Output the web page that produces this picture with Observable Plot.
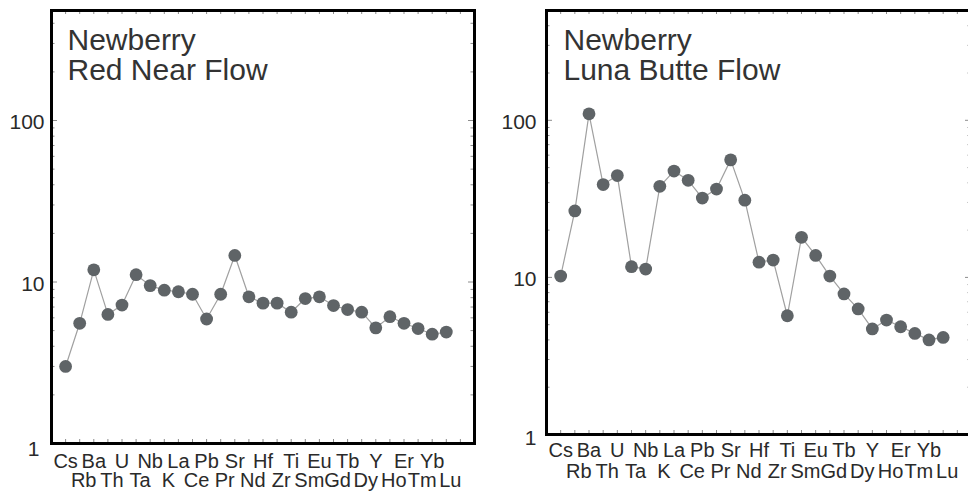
<!DOCTYPE html>
<html>
<head>
<meta charset="utf-8">
<script src="https://cdn.jsdelivr.net/npm/d3@7"></script>
<script src="https://cdn.jsdelivr.net/npm/@observablehq/plot@0.6"></script>
<style>
  html, body { margin: 0; padding: 0; background: #fff; overflow: hidden; }
  #wrap { display: flex; width: 968px; height: 492px; overflow: hidden; }
  #wrap svg { flex: none; max-width: none !important; }
</style>
</head>
<body>
<div id="wrap"></div>
<script>
// Trace-element spidergram: element order along the x axis
const elements = ["Cs","Rb","Ba","Th","U","Ta","Nb","K","La","Ce","Pb","Pr","Sr","Nd",
                  "Hf","Zr","Ti","Sm","Eu","Gd","Tb","Dy","Y","Ho","Er","Tm","Yb","Lu"];

// Normalized concentrations, one value per element
const redNearFlow = [3.0, 5.55, 11.9, 6.3, 7.2, 11.1, 9.5, 8.9, 8.7, 8.4, 5.9, 8.4, 14.6, 8.1,
                     7.4, 7.4, 6.5, 7.9, 8.1, 7.15, 6.75, 6.5, 5.2, 6.1, 5.55, 5.15, 4.75, 4.9];
const lunaButteFlow = [10.2, 26.5, 110, 39, 44.5, 11.7, 11.3, 38, 47.5, 41.5, 32, 36.5, 56, 31,
                       12.5, 12.9, 5.7, 18, 13.8, 10.2, 7.85, 6.3, 4.7, 5.35, 4.85, 4.4, 4.0, 4.15];

const titles = ["Newberry\nRed Near Flow", "Newberry\nLuna Butte Flow"];
const yLabels = [10, 100];
const yMajor = [1, 10, 100];

const H = 492;
const font = "'Liberation Sans', Arial, Helvetica, sans-serif";
const tickColor = "#8c8c8c";
const labelColor = "#2a2a2a";

function panel(values, title, o) {
  const data = elements.map((el, i) => ({i, el, v: values[i]}));
  const innerW = o.width - o.marginLeft - o.marginRight;
  const innerH = H - o.marginTop - o.marginBottom;
  const xTicks = d3.range(0, elements.length + 1);
  const minor = [];
  for (const p of [1, 10, 100]) for (let k = 2; k <= 9; k++) if (p * k <= o.yMax) minor.push(p * k);
  const top = xTicks.filter(i => i % 2 === 0 && i < elements.length);
  const bottom = xTicks.filter(i => i % 2 === 1 && i < elements.length);

  return Plot.plot({
    width: o.width,
    height: H,
    marginLeft: o.marginLeft,
    marginRight: o.marginRight,
    marginTop: o.marginTop,
    marginBottom: o.marginBottom,
    style: {fontFamily: font, background: "transparent", overflow: "visible"},
    x: {domain: [-1, elements.length + 1], axis: null, label: null},
    y: {type: "log", domain: [1, o.yMax], axis: null, label: null},
    marks: [
      // inward ticks on all four sides
      Plot.tickX(xTicks, {x: d => d, insetTop: innerH - 4, stroke: tickColor}),
      Plot.tickX(xTicks, {x: d => d, insetBottom: innerH - 4, stroke: tickColor}),
      Plot.tickY(minor, {y: d => d, insetRight: innerW - 3.5, stroke: tickColor}),
      Plot.tickY(minor, {y: d => d, insetLeft: innerW - 3.5, stroke: tickColor}),
      Plot.tickY(yMajor, {y: d => d, insetRight: innerW - 6, stroke: tickColor}),
      Plot.tickY(yMajor, {y: d => d, insetLeft: innerW - 6, stroke: tickColor}),
      // the pattern
      Plot.line(data, {x: "i", y: "v", stroke: "#a0a0a0", strokeWidth: 1.2}),
      Plot.dot(data, {x: "i", y: "v", r: 6.4, fill: "#5f6467", stroke: "none"}),
      Plot.frame({stroke: "#000", strokeWidth: 3}),
      // element labels in two staggered rows
      Plot.axisX(top, {anchor: "bottom", tickSize: 0, tickPadding: o.row1, tickFormat: i => elements[i],
                       fontSize: 20, fill: labelColor, label: null}),
      Plot.axisX(bottom, {anchor: "bottom", tickSize: 0, tickPadding: o.row2, dx: 4, tickFormat: i => elements[i],
                          fontSize: 20, fill: labelColor, label: null}),
      // y labels
      Plot.axisY(yLabels, {anchor: "left", tickSize: 0, tickPadding: o.yPad, dy: 2, tickFormat: d => String(d),
                           fontSize: 21, fill: labelColor, label: null}),
      Plot.axisY([1], {anchor: "left", tickSize: 0, tickPadding: o.yPad + o.oneDx, dy: o.oneDy, tickFormat: d => String(d),
                       fontSize: 21, fill: labelColor, label: null}),
      // panel title
      Plot.text([title], {frameAnchor: "top-left", dx: o.titleDx, dy: o.titleDy, lineAnchor: "top",
                          fontSize: 30, lineHeight: 1.0, fill: "#333"})
    ]
  });
}

const wrap = document.getElementById("wrap");
wrap.append(panel(redNearFlow, titles[0], {
  width: 484, marginLeft: 51, marginRight: 10, marginTop: 10, marginBottom: H - 443,
  yMax: 480, row1: 10, row2: 29, yPad: 7, oneDx: 5, oneDy: 6,
  titleDx: 16, titleDy: 18
}));
wrap.append(panel(lunaButteFlow, titles[1], {
  width: 490, marginLeft: 62, marginRight: 3, marginTop: 10, marginBottom: H - 434,
  yMax: 500, row1: 8, row2: 29, yPad: 10, oneDx: 0, oneDy: 4,
  titleDx: 17, titleDy: 18
}));
</script>
</body>
</html>
